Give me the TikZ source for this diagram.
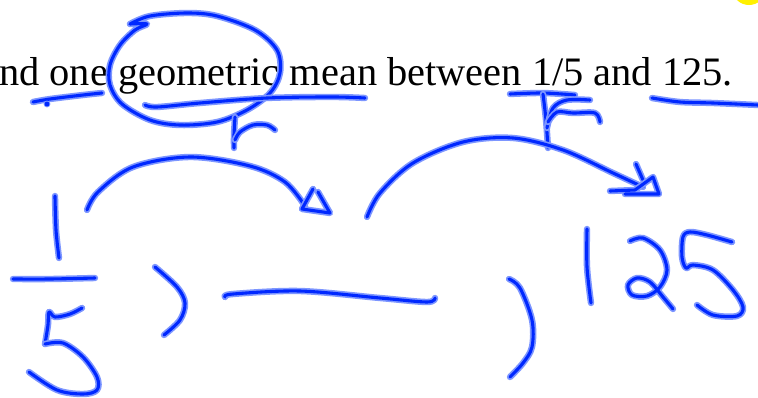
\documentclass[tikz,border=0pt]{standalone}
\usepackage{fontspec}
\setmainfont{Liberation Serif}
\definecolor{inkcore}{RGB}{0,40,255}
\definecolor{inkhalo}{RGB}{125,150,255}
\definecolor{hiyellow}{RGB}{255,240,0}
\tikzset{
  halo/.style={draw=inkhalo,line width=6.4pt,line cap=round,line join=round},
  core/.style={draw=inkcore,line width=3.1pt,line cap=round,line join=round},
}
\newcommand\inkstroke[1]{%
  \draw[halo] plot[smooth,tension=0.55] coordinates {#1};
  \draw[core] plot[smooth,tension=0.55] coordinates {#1};}
\newcommand\inkpoly[1]{%
  \draw[halo] plot coordinates {#1};
  \draw[core] plot coordinates {#1};}
\begin{document}
\begin{tikzpicture}[x=1pt,y=-1pt]
\useasboundingbox (0,0) rectangle (758,397);
\fill[white] (0,0) rectangle (758,397);
\begin{scope}
\clip (0,0) rectangle (758,397);
\fill[hiyellow] (749,-12) circle (17);
\node[anchor=base west,inner sep=0pt,font=\fontsize{40.4}{44}\selectfont] (q) at (-1,85) {nd one geometric mean between 1/5 and 125.};
% underline "one" and dot
\inkstroke{(33,102) (50,99) (83,95) (102,93)}
\fill[inkhalo] (47,104) circle (3.4);
\fill[inkcore] (47,104) circle (2.4);
% circle round "geometric"
\inkstroke{(130,24) (147,24) (135,30) (120,45) (110,65) (110,85) (122,104) (150,120) (180,125) (217,122) (247,110) (270,93) (280,73) (277,50) (255,30) (217,16) (187,13) (150,16) (130,24)}
% underline "geometric mean"
\inkstroke{(145,105) (157,107) (200,103) (267,98) (333,97) (365,98)}
% r under geometric
\inkstroke{(235,117) (234,135) (234,148)}
\inkstroke{(235,140) (240,132) (253,125) (267,125) (275,130)}
% underline 1/5 and r
\inkstroke{(510,94) (543,93) (575,95)}
\inkstroke{(543,94) (546,120) (548,148)}
\inkstroke{(547,128) (553,108) (567,100) (590,100)}
\inkstroke{(548,122) (557,112) (573,113) (595,113) (600,122)}
% underline 125
\inkstroke{(652,98) (680,102) (713,103) (758,105)}
% first arc arrow
\inkstroke{(87,210) (98,192) (133,167) (190,157) (250,166) (285,182) (305,206)}
\inkpoly{(313,189) (302,209) (330,213) (318,192)}
% second arc arrow
\inkstroke{(367,217) (380,193) (413,163) (463,142) (513,138) (563,150) (613,173) (643,187)}
\inkpoly{(636,164) (643,180)}
\inkpoly{(610,191) (635,190) (653,177) (659,194) (625,194)}
% fraction 1/5
\inkstroke{(55,196) (56,230) (59,258)}
\inkstroke{(13,279) (50,279) (95,278)}
\inkstroke{(82,308) (70,314) (55,317) (49,312) (48,325) (45,344)}
\inkstroke{(45,344) (63,343) (83,357) (97,377) (97,390) (83,394) (57,390) (29,372)}
% first paren
\inkstroke{(155,267) (177,287) (185,303) (180,320) (164,335)}
% blank
\inkstroke{(225,297) (233,294) (300,291) (380,298) (427,302) (435,298)}
% second paren
\inkstroke{(509,279) (520,288) (532,320) (532,347) (523,363) (510,377)}
% 125
\inkstroke{(587,229) (587,267) (591,303)}
\inkstroke{(630,241) (643,238) (660,250) (667,270) (660,287) (647,296) (632,295) (628,285) (637,278) (650,282) (663,297) (673,309)}
\inkstroke{(732,242) (707,235) (690,232) (683,237) (682,257) (686,268) (693,265) (713,270) (733,290) (743,307) (737,316) (713,315) (697,305)}
\end{scope}
\end{tikzpicture}
\end{document}
